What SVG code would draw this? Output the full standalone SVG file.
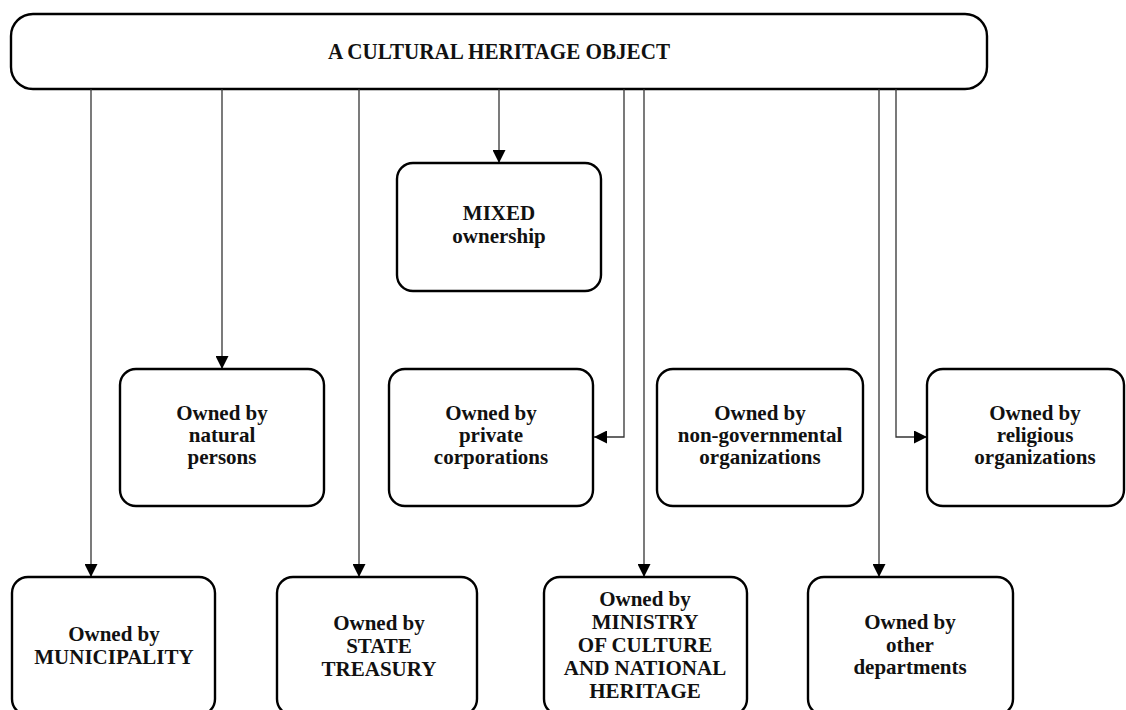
<svg xmlns="http://www.w3.org/2000/svg" width="1126" height="710" viewBox="0 0 1126 710">
  <style>
    .box { fill: #fff; stroke: #000; stroke-width: 2.4; }
    .lbl { font-family: "Liberation Serif", "Times New Roman", serif; font-weight: bold; font-size: 21px; fill: #111; text-anchor: middle; }
    .title { font-size: 23px; }
    .wire { fill: none; stroke: #333; stroke-width: 1.3; }
  </style>
  <defs>
    <marker id="arrow" markerUnits="userSpaceOnUse" markerWidth="13" markerHeight="13" viewBox="0 0 13 13" refX="13" refY="6.5" orient="auto">
      <path d="M0,0 L13,6.5 L0,13 z" fill="#000"/>
    </marker>
  </defs>

  <!-- root object -->
  <g id="root">
    <rect class="box" x="11" y="14" width="976" height="75" rx="22"/>
    <text class="lbl title" x="499" y="59" textLength="342" lengthAdjust="spacingAndGlyphs">A CULTURAL HERITAGE OBJECT</text>
  </g>

  <!-- connectors -->
  <g id="connectors">
    <path class="wire" d="M91,89 V577" marker-end="url(#arrow)"/>
    <path class="wire" d="M222,89 V369" marker-end="url(#arrow)"/>
    <path class="wire" d="M359,89 V577" marker-end="url(#arrow)"/>
    <path class="wire" d="M499,89 V163" marker-end="url(#arrow)"/>
    <path class="wire" d="M624,89 V437 H594" marker-end="url(#arrow)"/>
    <path class="wire" d="M644,89 V577" marker-end="url(#arrow)"/>
    <path class="wire" d="M879,89 V577" marker-end="url(#arrow)"/>
    <path class="wire" d="M896,89 V437 H927" marker-end="url(#arrow)"/>
  </g>

  <g id="mixed">
    <rect class="box" x="397" y="163" width="204" height="128" rx="16"/>
    <text class="lbl" x="499" y="220">MIXED</text>
    <text class="lbl" x="499" y="243">ownership</text>
  </g>

  <g id="natural-persons">
    <rect class="box" x="120" y="369" width="204" height="137" rx="16"/>
    <text class="lbl" x="222" y="420">Owned by</text>
    <text class="lbl" x="222" y="442">natural</text>
    <text class="lbl" x="222" y="464">persons</text>
  </g>

  <g id="private-corporations">
    <rect class="box" x="389" y="369" width="204" height="137" rx="16"/>
    <text class="lbl" x="491" y="420">Owned by</text>
    <text class="lbl" x="491" y="442">private</text>
    <text class="lbl" x="491" y="464">corporations</text>
  </g>

  <g id="ngo">
    <rect class="box" x="657" y="369" width="206" height="137" rx="16"/>
    <text class="lbl" x="760" y="420">Owned by</text>
    <text class="lbl" x="760" y="442">non-governmental</text>
    <text class="lbl" x="760" y="464">organizations</text>
  </g>

  <g id="religious">
    <rect class="box" x="927" y="369" width="197" height="137" rx="16"/>
    <text class="lbl" x="1035" y="420">Owned by</text>
    <text class="lbl" x="1035" y="442">religious</text>
    <text class="lbl" x="1035" y="464">organizations</text>
  </g>

  <g id="municipality">
    <rect class="box" x="12" y="577" width="203" height="138" rx="16"/>
    <text class="lbl" x="114" y="641">Owned by</text>
    <text class="lbl" x="114" y="664">MUNICIPALITY</text>
  </g>

  <g id="state-treasury">
    <rect class="box" x="277" y="577" width="200" height="138" rx="16"/>
    <text class="lbl" x="379" y="630">Owned by</text>
    <text class="lbl" x="379" y="653">STATE</text>
    <text class="lbl" x="379" y="676">TREASURY</text>
  </g>

  <g id="ministry">
    <rect class="box" x="544" y="577" width="203" height="138" rx="16"/>
    <text class="lbl" x="645" y="606">Owned by</text>
    <text class="lbl" x="645" y="629">MINISTRY</text>
    <text class="lbl" x="645" y="652">OF CULTURE</text>
    <text class="lbl" x="645" y="675">AND NATIONAL</text>
    <text class="lbl" x="645" y="698">HERITAGE</text>
  </g>

  <g id="other-departments">
    <rect class="box" x="808" y="577" width="205" height="138" rx="16"/>
    <text class="lbl" x="910" y="629">Owned by</text>
    <text class="lbl" x="910" y="652">other</text>
    <text class="lbl" x="910" y="674">departments</text>
  </g>
</svg>
